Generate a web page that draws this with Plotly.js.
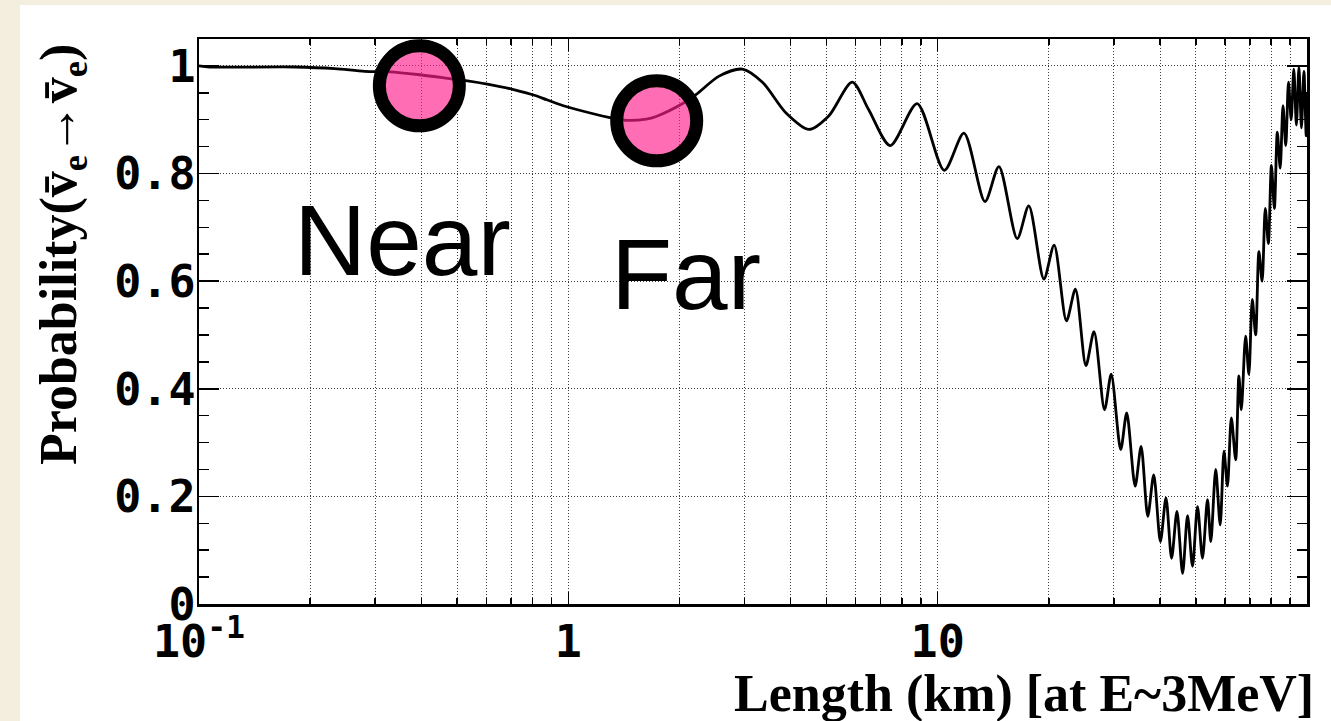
<!DOCTYPE html>
<html>
<head>
<meta charset="utf-8">
<script src="https://cdn.plot.ly/plotly-3.0.1.min.js"></script>
<style>
  html, body { margin: 0; padding: 0; background: #f4eedf; }
  #chart { width: 1331px; height: 721px; }
</style>
</head>
<body>
<div id="chart"></div>
<script>
// Baseline length (km)
const lengthKm = [
  0.1, 0.107, 0.182, 0.233, 0.281, 0.328, 0.391, 0.481, 0.533, 0.603,
  0.711, 0.822, 0.874, 0.97, 1.053, 1.295, 1.416, 1.626, 1.73, 2.04,
  2.22, 2.56, 2.96, 3.36, 3.88, 4.48, 5.07, 5.87, 6.5, 7.44,
  8.8, 10.42, 11.78, 13.43, 14.65, 16.42, 17.65, 19.39, 20.67, 22.32,
  23.6, 25.2, 26.5, 28.3, 29.5, 31.3, 32.5, 34.25, 35.55, 37.06,
  38.46, 40.09, 41.51, 42.99, 44.45, 46.04, 47.49, 48.98, 50.53, 52.12,
  53.77, 54.9, 56.6, 58.2, 59.6, 60.9, 62.4, 64.1, 65.4, 66.4,
  68.2, 69.6, 71.1, 72.6, 74.1, 75.6, 77.1, 78.6, 80.1, 81.6,
  83.1, 84.6, 86.1, 87.6, 89.1, 90.6, 92.1, 93.6, 95.1, 96.6,
  98.1, 99.5, 100
];
// Survival probability
const survival = [
  1.000, 0.998, 0.998, 0.995, 0.990, 0.989, 0.984, 0.976, 0.972, 0.966,
  0.956, 0.944, 0.937, 0.926, 0.919, 0.904, 0.899, 0.901, 0.906, 0.930,
  0.947, 0.981, 0.994, 0.969, 0.913, 0.882, 0.907, 0.970, 0.919, 0.852,
  0.930, 0.806, 0.875, 0.748, 0.813, 0.679, 0.740, 0.604, 0.667, 0.526,
  0.585, 0.443, 0.506, 0.361, 0.427, 0.287, 0.355, 0.219, 0.293, 0.163,
  0.240, 0.116, 0.197, 0.085, 0.172, 0.057, 0.164, 0.070, 0.181, 0.085,
  0.194, 0.116, 0.250, 0.147, 0.284, 0.219, 0.346, 0.268, 0.424, 0.361,
  0.498, 0.427, 0.566, 0.500, 0.655, 0.600, 0.735, 0.670, 0.815, 0.735,
  0.877, 0.810, 0.926, 0.852, 0.970, 0.900, 0.994, 0.890, 0.997, 0.885,
  0.990, 0.870, 0.950
];
// Detector markers
const detectorNames = ["Near", "Far"];
const detectorL = [0.395, 1.735];
const detectorP = [0.963, 0.898];

// Tick labels
const xTickVals = [0.1, 1, 10, 100];
const xTickText = ["10<sup>-1</sup>", "1", "10", ""];
const yTickVals = [0, 0.2, 0.4, 0.6, 0.8, 1.0];
const yTickText = ["0", "0.2", "0.4", "0.6", "0.8", "1"];

const xMinor = [];
[0.1, 1, 10].forEach(d => { for (let k = 2; k <= 9; k++) xMinor.push(+(d * k).toPrecision(3)); });

const L = 199, R = 1307, T = 39, B = 604;
const px2x = p => (p - L) / (R - L);
const px2y = p => (B - p) / (B - T);

const gridCol = "#3a3a3a";
const tickFont = { family: "DejaVu Sans Mono", size: 45, color: "#000", weight: "bold" };

const traces = [
  {
    x: lengthKm, y: survival, type: "scatter", mode: "lines",
    line: { color: "#000", width: 2.8, shape: "spline", smoothing: 0.8 },
    hoverinfo: "skip", showlegend: false
  },
  {
    x: detectorL, y: detectorP, text: detectorNames, type: "scatter", mode: "markers",
    marker: { size: 80, color: "rgba(255,32,140,0.65)", line: { color: "#000", width: 13 } },
    showlegend: false, cliponaxis: false
  }
];

const layout = {
  width: 1331, height: 721,
  margin: { l: L, r: 1331 - R, t: T, b: 721 - B, pad: 0 },
  paper_bgcolor: "#f4eedf",
  plot_bgcolor: "#ffffff",
  showlegend: false,
  xaxis: {
    type: "log", range: [-1, 2], autorange: false,
    tickmode: "array", tickvals: xTickVals, ticktext: xTickText,
    ticks: "inside", ticklen: 12, tickwidth: 1.5, tickcolor: "#000",
    showgrid: true, gridcolor: gridCol, griddash: "1px,2px", gridwidth: 1,
    showline: true, linecolor: "#000", linewidth: 2.5, mirror: "allticks",
    zeroline: false, tickfont: tickFont, ticklabelstandoff: -4,
    minor: { tickmode: "array", tickvals: xMinor, ticks: "inside", ticklen: 6, tickwidth: 1.5, tickcolor: "#000",
             showgrid: true, gridcolor: gridCol, griddash: "1px,2px", gridwidth: 1 }
  },
  yaxis: {
    range: [0, 1.05], autorange: false,
    tickmode: "array", tickvals: yTickVals, ticktext: yTickText,
    ticks: "inside", ticklen: 20, tickwidth: 1.5, tickcolor: "#000",
    showgrid: true, gridcolor: gridCol, griddash: "1px,2px", gridwidth: 1,
    showline: true, linecolor: "#000", linewidth: 2.5, mirror: "allticks",
    zeroline: false, tickfont: tickFont, ticklabelstandoff: -8,
    minor: { dtick: 0.05, tick0: 0, ticks: "inside", ticklen: 10, tickwidth: 1.5, tickcolor: "#000", showgrid: false }
  },
  shapes: [
    { type: "rect", xref: "paper", yref: "paper", layer: "below",
      x0: px2x(20), x1: px2x(1340), y0: px2y(730), y1: px2y(5),
      fillcolor: "#ffffff", line: { width: 0 } }
  ],
  annotations: [
    { text: "Near", xref: "paper", yref: "paper", x: px2x(292), y: px2y(240), xanchor: "left", yanchor: "middle",
      showarrow: false, font: { family: "Liberation Sans", size: 100, color: "#000" } },
    { text: "Far", xref: "paper", yref: "paper", x: px2x(609), y: px2y(274), xanchor: "left", yanchor: "middle",
      showarrow: false, font: { family: "Liberation Sans", size: 100, color: "#000" } },
    { text: "Length (km) [at E~3MeV]", xref: "paper", yref: "paper", x: px2x(1316), y: px2y(694),
      xanchor: "right", yanchor: "middle", showarrow: false,
      font: { family: "Liberation Serif", size: 52, color: "#000", weight: "bold" } },
    { text: "Probability(v\u0304<sub>e</sub>→v\u0304<sub>e</sub>)",
      xref: "paper", yref: "paper",
      x: px2x(62), y: px2y(255), xanchor: "center", yanchor: "middle", textangle: -90, showarrow: false,
      font: { family: "Liberation Serif", size: 52, color: "#000", weight: "bold" } }
  ]
};

Plotly.newPlot("chart", traces, layout, { displayModeBar: false, staticPlot: true });
</script>
</body>
</html>
